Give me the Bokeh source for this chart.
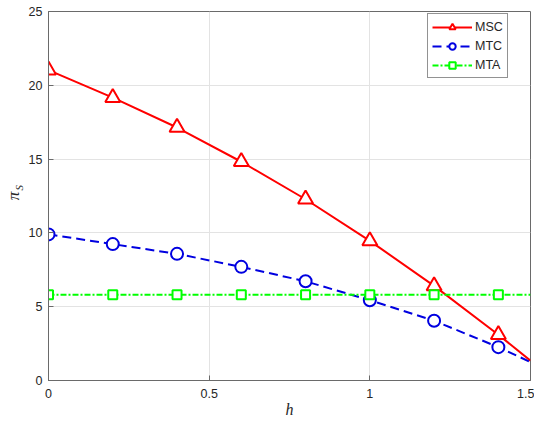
from bokeh.plotting import figure
from bokeh.models import Range1d, FixedTicker, LinearAxis, Legend, LegendItem
from bokeh.embed import file_html
from bokeh.resources import INLINE

# ---- data ----
h_vals = [0.0, 0.2, 0.4, 0.6, 0.8, 1.0, 1.2, 1.4, 1.5]
msc = [21.03, 19.17, 17.14, 14.82, 12.28, 9.46, 6.41, 3.10, 1.34]
mtc = [9.90, 9.24, 8.58, 7.70, 6.72, 5.44, 4.05, 2.26, 1.25]
mta = [5.81, 5.81, 5.81, 5.81, 5.81, 5.81, 5.81, 5.81, 5.81]
n_mark = 8  # markers drawn at h = 0 ... 1.4
x_ticks = [0, 0.5, 1, 1.5]
y_ticks = [0, 5, 10, 15, 20, 25]
series_names = ["MSC", "MTC", "MTA"]

p = figure(width=534, height=422, output_backend="svg", toolbar_location=None,
           x_range=Range1d(0, 1.5), y_range=Range1d(0, 25),
           min_border_left=46, min_border_right=4, min_border_top=11, min_border_bottom=42)

p.background_fill_color = "white"
p.border_fill_color = "white"
p.outline_line_color = "#6a6a6a"
p.outline_line_width = 1

for ax in (p.xaxis[0], p.yaxis[0]):
    ax.axis_line_color = "#6a6a6a"
    ax.major_tick_line_color = "#6a6a6a"
    ax.major_tick_in = 5
    ax.major_tick_out = 0
    ax.minor_tick_line_color = None
    ax.major_label_text_font = "Liberation Sans"
    ax.major_label_text_font_size = "12.5px"
    ax.major_label_text_color = "#262626"

p.xaxis.ticker = FixedTicker(ticks=x_ticks)
p.yaxis.ticker = FixedTicker(ticks=y_ticks)
p.xaxis.major_label_standoff = 8
p.yaxis.major_label_standoff = 6

p.xaxis.axis_label = "h"
p.xaxis.axis_label_text_font = "Liberation Serif"
p.xaxis.axis_label_text_font_style = "italic"
p.xaxis.axis_label_text_font_size = "16px"
p.xaxis.axis_label_text_color = "#262626"
p.xaxis.axis_label_standoff = 0

# y label: subscript "S" on the inner axis, "π" on an outer helper axis
NB = "\u00a0"
p.yaxis.axis_label = NB * 6 + "S"
p.yaxis.axis_label_text_font = "Liberation Serif"
p.yaxis.axis_label_text_font_style = "italic"
p.yaxis.axis_label_text_font_size = "11px"
p.yaxis.axis_label_text_color = "#262626"
p.yaxis.axis_label_standoff = 1

pi_axis = LinearAxis(ticker=FixedTicker(ticks=[]), axis_label="π",
                     axis_line_color=None, major_tick_line_color=None,
                     minor_tick_line_color=None, major_tick_in=0, major_tick_out=0,
                     major_label_standoff=0, axis_label_standoff=-13,
                     axis_label_text_font="Liberation Serif",
                     axis_label_text_font_style="italic",
                     axis_label_text_font_size="17px",
                     axis_label_text_color="#262626")
p.add_layout(pi_axis, "left")

p.xgrid.ticker = FixedTicker(ticks=x_ticks)
p.ygrid.ticker = FixedTicker(ticks=y_ticks)
p.grid.grid_line_color = "#e3e3e3"
p.grid.grid_line_width = 1

# series
r_l1 = p.line(h_vals, msc, line_color="#FF0000", line_width=2)
r_m1 = p.scatter(h_vals[:n_mark], msc[:n_mark], marker="triangle", size=15,
                 line_color="#FF0000", line_width=2, fill_color="white")

r_l2 = p.line(h_vals, mtc, line_color="#0000E0", line_width=2, line_dash="9 5")
r_m2 = p.scatter(h_vals[:n_mark], mtc[:n_mark], marker="circle", size=12,
                 line_color="#0000E0", line_width=2, fill_color="white")

r_l3 = p.line(h_vals, mta, line_color="#00FF00", line_width=2, line_dash="6 2 2 2")
r_m3 = p.scatter(h_vals[:n_mark], mta[:n_mark], marker="square", size=9,
                 line_color="#00FF00", line_width=2, fill_color="white")

legend = Legend(items=[
    LegendItem(label=series_names[0], renderers=[r_l1, r_m1]),
    LegendItem(label=series_names[1], renderers=[r_l2, r_m2]),
    LegendItem(label=series_names[2], renderers=[r_l3, r_m3]),
], location=(379, 302))
legend.glyph_width = 40
legend.glyph_height = 16
legend.label_height = 17
legend.label_width = 10
legend.label_standoff = 3
legend.spacing = 2
legend.padding = 4
legend.margin = 0
legend.label_text_font = "Liberation Sans"
legend.label_text_font_size = "12.5px"
legend.label_text_color = "#262626"
legend.border_line_color = "#262626"
legend.border_line_width = 1
legend.background_fill_color = "white"
legend.background_fill_alpha = 1
p.add_layout(legend, "center")

open("out.html", "w").write(file_html(p, INLINE))
